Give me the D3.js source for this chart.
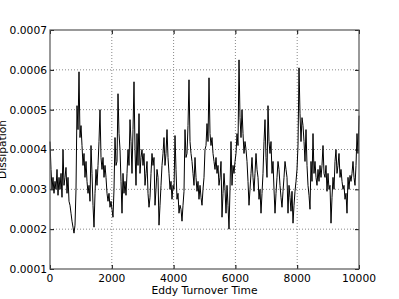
<!DOCTYPE html>
<html>
<head>
<meta charset="utf-8">
<script src="https://cdn.jsdelivr.net/npm/d3@7"></script>
<style>
  body { margin: 0; background: #fff; }
  svg { display: block; font-family: "DejaVu Sans", sans-serif; }
  .tick-label { font-size: 10.7px; fill: #000; }
</style>
</head>
<body>
<svg id="chart" width="399" height="299"></svg>
<script>
// readings of dissipation, in units of 1e-4, sampled evenly over 0..10000 eddy turnover times
const dissipation = [
  4.2, 3.5, 3.0, 3.3, 2.9, 3.2, 3.0, 3.5, 2.85, 3.3,
  3.0, 3.4, 2.8, 4.0, 3.1, 3.3, 3.55, 2.9, 3.3, 2.7,
  2.6, 2.4, 2.2, 2.05, 1.9, 2.1, 3.0, 5.1, 4.5, 5.95,
  4.3, 4.6, 4.1, 3.6, 3.9, 3.3, 3.7, 3.2, 2.9, 3.1,
  2.7, 4.1, 3.4, 2.6, 2.05, 2.9, 3.5, 3.1, 3.6, 4.2,
  5.0, 3.8, 3.5, 3.8, 3.3, 3.6, 3.3, 2.9, 2.7, 2.9,
  2.55, 2.7, 2.5, 2.3, 3.0, 4.3, 3.6, 3.7, 5.4, 4.4,
  4.0, 3.2, 2.4, 3.4, 2.9, 3.2, 2.85, 3.4, 4.0, 3.6,
  4.75, 4.2, 3.4, 4.5, 5.7, 4.0, 3.1, 4.4, 3.6, 4.9,
  3.4, 3.8, 4.0, 3.6, 3.9, 3.1, 3.4, 3.7, 2.9, 2.55,
  2.8, 3.4, 3.9, 3.6, 3.8, 2.6, 3.0, 3.5, 3.3, 2.1,
  2.6, 3.1, 3.6, 3.9, 4.3, 3.6, 3.9, 4.5, 3.8, 3.4,
  3.0, 3.2, 2.75, 3.1, 3.0, 4.35, 3.5, 2.75, 2.9, 2.4,
  2.6, 2.5, 2.2, 2.6, 2.95, 4.5, 3.8, 3.9, 4.6, 5.75,
  4.2, 3.9, 3.7, 3.4, 3.1, 3.8, 3.3, 2.95, 3.2, 2.75,
  3.1, 2.8, 2.6, 3.0, 3.3, 4.0, 4.1, 4.65, 4.2, 5.8,
  4.4, 4.1, 4.3, 3.9, 3.7, 3.5, 3.8, 3.4, 3.6, 3.1,
  3.3, 3.7, 2.3, 2.9, 3.4, 3.0, 2.4, 3.1, 2.6, 2.0,
  3.0, 4.2, 3.1, 3.6, 3.4, 3.7, 3.9, 4.4, 4.1, 6.25,
  4.8, 4.3, 5.0, 4.4, 3.9, 4.2, 4.0, 3.7, 3.2, 2.6,
  3.0, 3.4, 3.8, 3.3, 2.95, 3.4, 3.9, 3.5, 3.3, 2.75,
  3.0, 2.4, 2.9, 3.4, 4.2, 4.75, 3.8, 3.3, 5.1, 4.2,
  3.9, 4.2, 3.4, 3.7, 3.0, 2.4, 2.9, 3.3, 3.7, 3.5,
  3.1, 2.8, 2.55, 2.95, 3.3, 3.7, 3.5, 3.3, 2.4, 3.1,
  2.8, 2.45, 2.95, 2.15, 2.6, 2.95, 3.2, 3.5, 4.1, 6.05,
  4.9, 4.2, 4.8, 4.6, 4.2, 3.7, 4.5, 3.6, 3.1, 2.85,
  2.5, 3.7, 3.2, 4.4, 3.4, 3.7, 3.3, 3.1, 3.5, 3.2,
  3.6, 3.3, 3.6, 4.1, 3.4, 3.3, 3.6, 2.95, 3.4, 3.0,
  3.1, 2.15, 2.8, 3.3, 3.0, 3.7, 4.0, 3.4, 3.6, 3.9,
  3.3, 3.5, 3.2, 3.0, 3.1, 2.75, 2.9, 2.4, 3.3, 3.0,
  3.35, 3.2, 3.4, 3.7, 3.3, 3.1, 3.6, 4.4, 3.9, 4.85
];
const timeStart = 0;
const timeEnd = 10000;

const xTicks = [0, 2000, 4000, 6000, 8000, 10000];
const yTicks = [0.0001, 0.0002, 0.0003, 0.0004, 0.0005, 0.0006, 0.0007];
const yTickLabels = ["0.0001", "0.0002", "0.0003", "0.0004", "0.0005", "0.0006", "0.0007"];

const margin = { top: 30, right: 40, bottom: 30, left: 50 };
const width = 399, height = 299;
const svg = d3.select("#chart");

const x = d3.scaleLinear().domain([timeStart, timeEnd]).range([margin.left, width - margin.right]);
const y = d3.scaleLinear().domain([0.0001, 0.0007]).range([height - margin.bottom, margin.top]);

// time of each sample, spread evenly across the run
const step = (timeEnd - timeStart) / (dissipation.length - 1);
const series = dissipation.map((d, i) => ({ t: timeStart + i * step, v: d * 1e-4 }));

// dotted grid
const grid = svg.append("g");
grid.selectAll(".vg").data(xTicks.slice(1, -1)).enter().append("line")
  .attr("x1", d => x(d)).attr("x2", d => x(d))
  .attr("y1", y(0.0001)).attr("y2", y(0.0007))
  .attr("stroke", "#888").attr("stroke-width", 1).attr("stroke-dasharray", "1,2");
grid.selectAll(".hg").data(yTicks.slice(1, -1)).enter().append("line")
  .attr("x1", x(timeStart)).attr("x2", x(timeEnd))
  .attr("y1", d => y(d)).attr("y2", d => y(d))
  .attr("stroke", "#888").attr("stroke-width", 1).attr("stroke-dasharray", "1,2");

// the series
const line = d3.line().x(d => x(d.t)).y(d => y(d.v));
svg.append("path")
  .datum(series)
  .attr("d", line)
  .attr("fill", "none")
  .attr("stroke", "#000")
  .attr("stroke-width", 1)
  .attr("stroke-linejoin", "round");

// axes, ticks pointing inward like matplotlib
const tickLen = 4;
svg.append("g").attr("transform", `translate(0,${y(0.0001)})`)
  .call(d3.axisTop(x).tickValues(xTicks).tickSize(tickLen).tickFormat(""))
  .call(g => g.select(".domain").remove());
svg.append("g").attr("transform", `translate(0,${y(0.0007)})`)
  .call(d3.axisBottom(x).tickValues(xTicks).tickSize(tickLen).tickFormat(""))
  .call(g => g.select(".domain").remove());
svg.append("g").attr("transform", `translate(${x(timeStart)},0)`)
  .call(d3.axisRight(y).tickValues(yTicks).tickSize(tickLen).tickFormat(""))
  .call(g => g.select(".domain").remove());
svg.append("g").attr("transform", `translate(${x(timeEnd)},0)`)
  .call(d3.axisLeft(y).tickValues(yTicks).tickSize(tickLen).tickFormat(""))
  .call(g => g.select(".domain").remove());

// frame
svg.append("rect")
  .attr("x", x(timeStart)).attr("y", y(0.0007))
  .attr("width", x(timeEnd) - x(timeStart))
  .attr("height", y(0.0001) - y(0.0007))
  .attr("fill", "none").attr("stroke", "#555").attr("stroke-width", 1.2);

// tick labels
svg.selectAll(".xl").data(xTicks).enter().append("text")
  .attr("class", "tick-label")
  .attr("x", d => x(d)).attr("y", y(0.0001) + 13)
  .attr("text-anchor", "middle")
  .text(d => d);
svg.selectAll(".yl").data(yTicks).enter().append("text")
  .attr("class", "tick-label")
  .attr("x", x(timeStart) - 3).attr("y", d => y(d)).attr("dy", "0.36em")
  .attr("text-anchor", "end")
  .text((d, i) => yTickLabels[i]);

// axis titles
svg.append("text").attr("class", "tick-label")
  .attr("x", (x(timeStart) + x(timeEnd)) / 2).attr("y", 294)
  .attr("text-anchor", "middle")
  .text("Eddy Turnover Time");
svg.append("text").attr("class", "tick-label")
  .attr("transform", `translate(5.5,${(y(0.0001) + y(0.0007)) / 2}) rotate(-90)`)
  .attr("text-anchor", "middle")
  .text("Dissipation");
</script>
</body>
</html>
